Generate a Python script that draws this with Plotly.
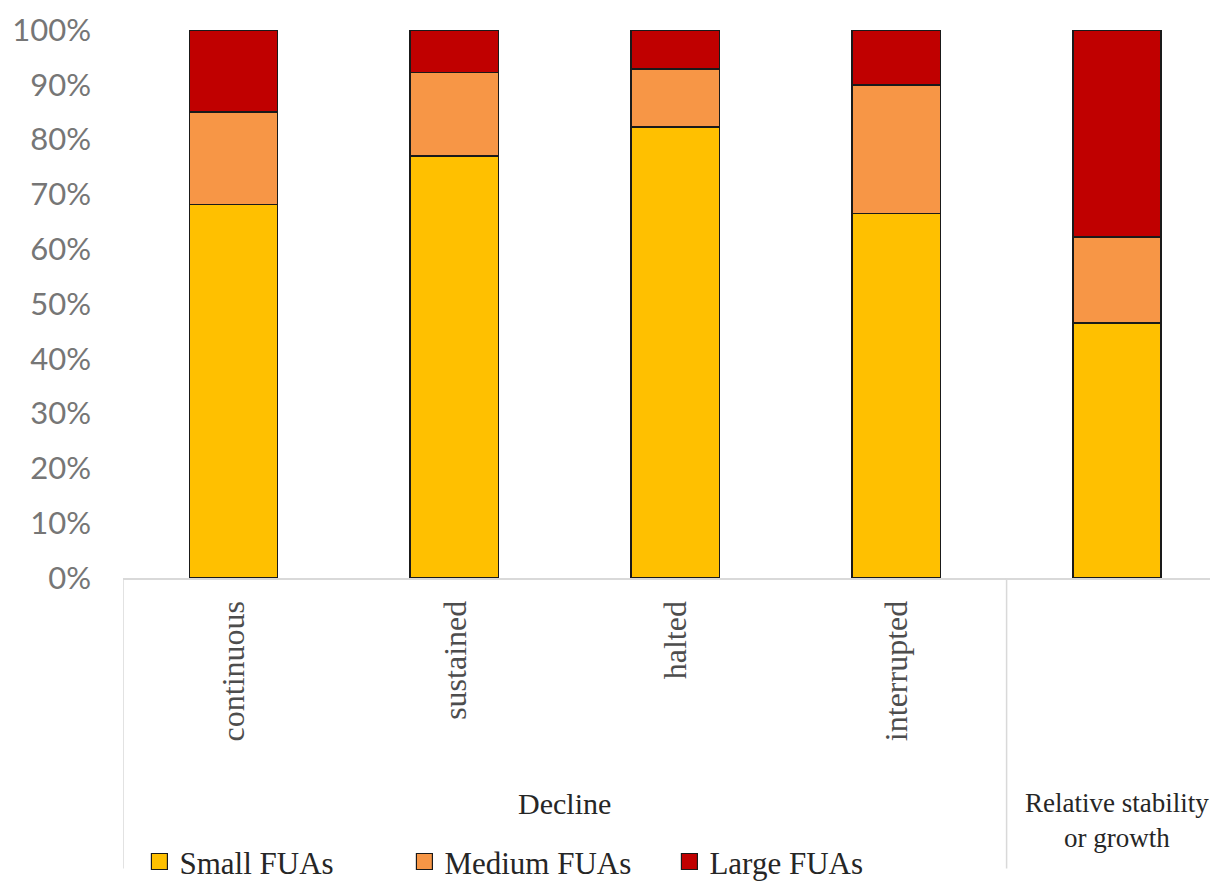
import plotly.graph_objects as go

categories = ["continuous", "sustained", "halted", "interrupted", "stability"]
cat_labels = ["continuous", "sustained", "halted", "interrupted", ""]
small = [0.682, 0.770, 0.823, 0.665, 0.465]
medium = [0.168, 0.152, 0.106, 0.235, 0.157]
large = [0.150, 0.078, 0.071, 0.100, 0.378]
series_names = ["Small FUAs", "Medium FUAs", "Large FUAs"]
series_colors = ["#FFC000", "#F79646", "#C00000"]
group_labels = ["Decline", "Relative stability<br>or growth"]
y_ticks = [i / 10 for i in range(11)]

fig = go.Figure()
for name, vals, col in zip(series_names, [small, medium, large], series_colors):
    fig.add_trace(go.Bar(
        x=categories, y=vals, name=name, width=0.4, showlegend=False,
        marker=dict(color=col, line=dict(color="#1a1a1a", width=1.5)),
    ))
# legend entries with larger square swatches
for name, col in zip(series_names, series_colors):
    fig.add_trace(go.Scatter(
        x=[None], y=[None], mode="markers", name=name,
        marker=dict(symbol="square", size=18, color=col,
                    line=dict(color="#1a1a1a", width=1.2)),
    ))

serif = "Liberation Serif"
annotations = []
for c, lab in zip(categories, cat_labels):
    if lab:
        annotations.append(dict(
            x=c, xref="x", y=0, yref="paper", yanchor="top", xanchor="center",
            yshift=-21, text=lab, textangle=-90, showarrow=False,
            font=dict(family=serif, size=32, color="#4d4d4d"),
        ))
annotations.append(dict(
    x=1.5, xref="x", y=0, yref="paper", yanchor="middle", xanchor="center",
    yshift=-225, text=group_labels[0], showarrow=False,
    font=dict(family=serif, size=30, color="#262626"),
))
annotations.append(dict(
    x=4, xref="x", y=0, yref="paper", yanchor="middle", xanchor="center",
    yshift=-242, text=group_labels[1], showarrow=False,
    font=dict(family=serif, size=27, color="#262626"),
))

shapes = []
for xv in [-0.5, 3.5]:
    shapes.append(dict(
        type="line", xref="x", yref="paper", x0=xv, x1=xv, y0=0, y1=-0.53,
        line=dict(color="#d9d9d9", width=1.5),
    ))

fig.update_layout(
    width=1218, height=883,
    margin=dict(l=115, r=8, t=22, b=313, autoexpand=False),
    barmode="stack",
    paper_bgcolor="white", plot_bgcolor="white",
    showlegend=True,
    legend=dict(
        orientation="h", traceorder="normal",
        x=0.015, xanchor="left", yref="container", y=0.033, yanchor="middle",
        font=dict(family=serif, size=31, color="#262626"),
        bgcolor="rgba(0,0,0,0)", itemwidth=30,
        entrywidth=220, entrywidthmode="pixels",
    ),
    xaxis=dict(
        range=[-0.5, 4.457], showticklabels=False, showgrid=False,
        showline=True, linecolor="#d9d9d9", linewidth=1.5, ticks="",
        zeroline=False, automargin=False,
    ),
    yaxis=dict(
        range=[0, 1], tickvals=y_ticks, tickformat=".0%", showgrid=False,
        zeroline=False, showline=False, ticks="", ticklabelstandoff=31,
        tickfont=dict(family="Lato", size=31, color="#767676"),
        automargin=False,
    ),
    annotations=annotations,
    shapes=shapes,
    hovermode=False,
)

fig.write_html("out.html")
